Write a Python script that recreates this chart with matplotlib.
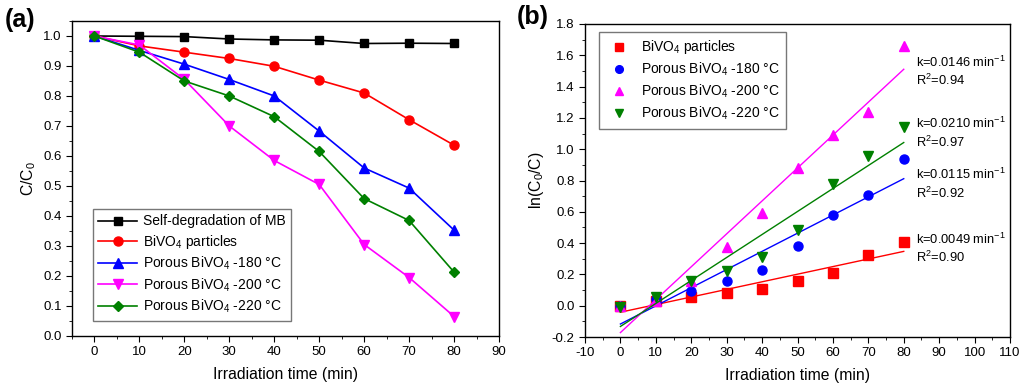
import numpy as np
import matplotlib
matplotlib.use("Agg")
import matplotlib.pyplot as plt
from matplotlib.ticker import MultipleLocator

plt.rcParams["font.family"] = ["Liberation Sans", "DejaVu Sans"]
plt.rcParams["mathtext.fontset"] = "custom"
plt.rcParams["mathtext.rm"] = "Liberation Sans"
plt.rcParams["mathtext.it"] = "Liberation Sans:italic"
plt.rcParams["axes.unicode_minus"] = False

# irradiation times
times = [0, 10, 20, 30, 40, 50, 60, 70, 80]

# panel (a): C/C0
selfDeg = [1.0, 0.999, 0.998, 0.99, 0.987, 0.986, 0.975, 0.976, 0.975]
particles = [1.0, 0.967, 0.946, 0.925, 0.899, 0.853, 0.81, 0.721, 0.636]
porous180 = [1.0, 0.952, 0.906, 0.855, 0.8, 0.683, 0.56, 0.493, 0.353]
porous200 = [1.0, 0.97, 0.855, 0.70, 0.585, 0.505, 0.305, 0.195, 0.065]
porous220 = [1.0, 0.946, 0.85, 0.80, 0.731, 0.615, 0.458, 0.385, 0.213]

# panel (b): ln(C0/C)
lnParticles = [0.0, 0.03, 0.055, 0.08, 0.105, 0.16, 0.21, 0.325, 0.41]
ln180 = [0.0, 0.04, 0.095, 0.155, 0.225, 0.38, 0.58, 0.71, 0.94]
ln200 = [0.0, 0.03, 0.16, 0.375, 0.595, 0.88, 1.09, 1.235, 1.66]
ln220 = [-0.01, 0.055, 0.16, 0.22, 0.31, 0.485, 0.775, 0.955, 1.145]

kLabels = ["k=0.0049 min$^{-1}$", "k=0.0115 min$^{-1}$", "k=0.0146 min$^{-1}$", "k=0.0210 min$^{-1}$"]
r2Labels = ["R$^2$=0.90", "R$^2$=0.92", "R$^2$=0.94", "R$^2$=0.97"]

green = "#008000"
magenta = "#FF00FF"

fig = plt.figure(figsize=(10.24, 3.92), dpi=100)
axA = fig.add_axes([72 / 1024, 1 - 336 / 392, 427 / 1024, 315 / 392])
axB = fig.add_axes([585 / 1024, 1 - 337 / 392, 425 / 1024, 313 / 392])

# ---- panel (a)
axA.plot(times, selfDeg, color="black", marker="s", ms=5.5, lw=1.2, label="Self-degradation of MB")
axA.plot(times, particles, color="red", marker="o", ms=6.5, lw=1.2, label="BiVO$_4$ particles")
axA.plot(times, porous180, color="blue", marker="^", ms=6.5, lw=1.2, label="Porous BiVO$_4$ -180 °C")
axA.plot(times, porous200, color=magenta, marker="v", ms=6.5, lw=1.2, label="Porous BiVO$_4$ -200 °C")
axA.plot(times, porous220, color=green, marker="D", ms=5.5, lw=1.2, label="Porous BiVO$_4$ -220 °C")
axA.set_xlim(-5, 90)
axA.set_ylim(0, 1.05)
axA.xaxis.set_major_locator(MultipleLocator(10))
axA.xaxis.set_minor_locator(MultipleLocator(5))
axA.yaxis.set_major_locator(MultipleLocator(0.1))
axA.yaxis.set_minor_locator(MultipleLocator(0.05))
axA.set_xlabel("Irradiation time (min)", fontsize=11.3, labelpad=6)
axA.set_ylabel("C/C$_0$", fontsize=11.3, labelpad=4)
axA.legend(loc="lower left", bbox_to_anchor=(0.049, 0.048), borderaxespad=0, fontsize=10,
           frameon=True, fancybox=False, edgecolor="#555555", handlelength=2.8, borderpad=0.4,
           labelspacing=0.3, handletextpad=0.4)
axA.text(-0.157, 1.04, "(a)", transform=axA.transAxes, fontsize=18, fontweight="bold", va="top")

# ---- panel (b)
sets = [(lnParticles, "red", "s", "BiVO$_4$ particles"),
        (ln180, "blue", "o", "Porous BiVO$_4$ -180 °C"),
        (ln200, magenta, "^", "Porous BiVO$_4$ -200 °C"),
        (ln220, green, "v", "Porous BiVO$_4$ -220 °C")]
for vals, col, mk, lab in sets:
    axB.plot(times, vals, linestyle="none", color=col, marker=mk, ms=6.5, label=lab)
    slope, icpt = np.polyfit(times, vals, 1)
    fitX = np.array([times[0], times[-1]])
    axB.plot(fitX, slope * fitX + icpt, color=col, lw=1.0)

axB.set_xlim(-10, 110)
axB.set_ylim(-0.2, 1.8)
axB.xaxis.set_major_locator(MultipleLocator(10))
axB.xaxis.set_minor_locator(MultipleLocator(5))
axB.yaxis.set_major_locator(MultipleLocator(0.2))
axB.yaxis.set_minor_locator(MultipleLocator(0.1))
axB.set_xlabel("Irradiation time (min)", fontsize=11.3, labelpad=6)
axB.set_ylabel("ln(C$_0$/C)", fontsize=11.3, labelpad=4)
leg = axB.legend(loc="upper left", bbox_to_anchor=(0.033, 0.974), borderaxespad=0, fontsize=10,
                 frameon=True, fancybox=False, edgecolor="#555555", borderpad=0.45,
                 labelspacing=0.33, handletextpad=0.6, markerscale=0.85)
axB.text(-0.16, 1.06, "(b)", transform=axB.transAxes, fontsize=18, fontweight="bold", va="top")

annY = [(0.425, 0.31), (0.84, 0.72), (1.556, 1.44), (1.166, 1.045)]
for i in range(len(kLabels)):
    axB.text(83.5, annY[i][0], kLabels[i], fontsize=9.3, va="center")
    axB.text(83.5, annY[i][1], r2Labels[i], fontsize=9.3, va="center")

for ax in (axA, axB):
    ax.tick_params(which="both", direction="out", labelsize=9.5, top=False, right=False)
    ax.tick_params(which="major", length=4)
    ax.tick_params(which="minor", length=2.5)
    for s in ax.spines.values():
        s.set_linewidth(1.0)

fig.savefig("out.png", dpi=100)
